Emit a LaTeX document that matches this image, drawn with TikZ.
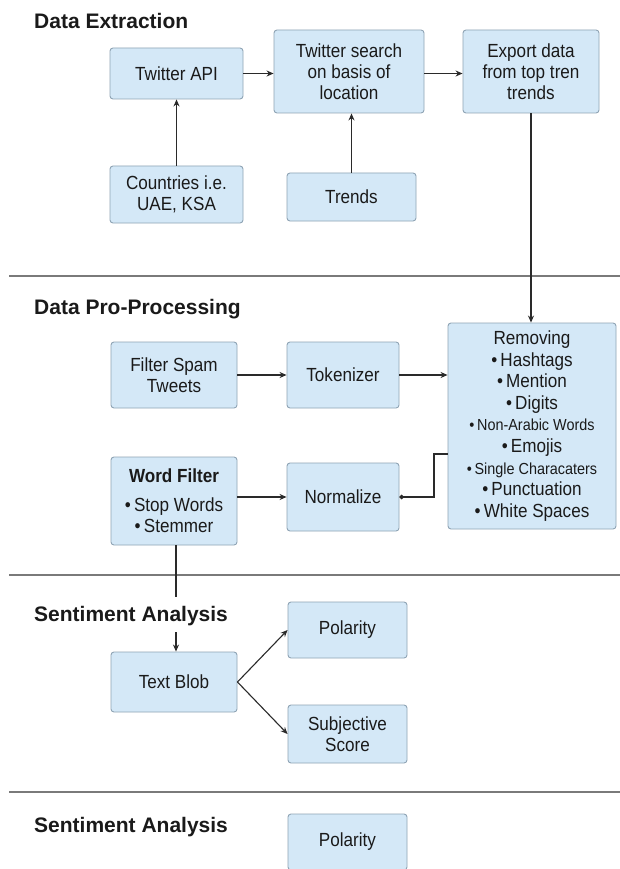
\documentclass[tikz,border=0pt]{standalone}
\usepackage{fontspec}
\setmainfont{Liberation Sans}
\newfontfamily\boxfont{Liberation Sans}[FakeStretch=0.9]
\usetikzlibrary{arrows.meta}
\definecolor{boxfill}{HTML}{D4E8F7}
\definecolor{boxline}{HTML}{8FA4B5}
\definecolor{connc}{HTML}{2A2A2A}
\definecolor{sepc}{HTML}{7A7A7A}
\definecolor{txt}{HTML}{1A1A1A}
\tikzset{
  sz/.style 2 args={minimum width=#1pt,minimum height=#2pt},
  box/.style={draw=boxline, fill=boxfill, line width=0.9pt, rounded corners=3pt,
    align=center, inner sep=0pt, text=txt, font=\boxfont\fontsize{19}{21}\selectfont},
  ttl/.style={anchor=base west, inner sep=0pt, text=txt, font=\fontsize{21}{24}\selectfont\bfseries},
  conn/.style={draw=connc, line width=1.1pt, -{Stealth[length=7pt,width=6pt]}},
  plainln/.style={draw=connc, line width=1.1pt},
  sepline/.style={draw=sepc, line width=1.4pt}
}
\begin{document}
\begin{tikzpicture}[x=1pt,y=-1pt]
\useasboundingbox (0,0) rectangle (620,869);
\clip (0,0) rectangle (620,869);
\fill[white] (0,0) rectangle (620,869);

% titles
\node[ttl] (t1) at (34,28.5) {Data Extraction};
\node[ttl] (t2) at (34,314.5) {Data Pro-Processing};
\node[ttl] (t3) at (34,621.5) {Sentiment Analysis};
\node[ttl] (t4) at (34,832.5) {Sentiment Analysis};

% separators
\draw[sepline] (9,276) -- (620,276);
\draw[sepline] (9,575) -- (620,575);
\draw[sepline] (9,792) -- (620,792);

% section 1
\node[box, sz={133}{51}] (api) at (176.5,73.5) {Twitter API};
\node[box, sz={150}{83}] (search) at (349,71.5) {Twitter search\\on basis of\\location};
\node[box, sz={136}{83}] (export) at (531,71.5) {Export data\\from top tren\\trends};
\node[box, sz={133}{57}] (countries) at (176.5,194.5) {Countries i.e.\\UAE, KSA};
\node[box, sz={129}{48}] (trends) at (351.5,197) {Trends};

% section 2
\node[box, sz={126}{66}] (filter) at (174,375) {Filter Spam\\Tweets};
\node[box, sz={112}{66}] (token) at (343,375) {Tokenizer};
\node[box, sz={168}{206}, font=\boxfont\fontsize{19}{21.6}\selectfont] (rem) at (532,426)
  {Removing\\
   •\,Hashtags\\
   •\,Mention\\
   •\,Digits\\
   {\fontsize{16}{17}\selectfont •\,Non-Arabic Words}\\
   •\,Emojis\\
   {\fontsize{16}{17}\selectfont •\,Single Characaters}\\
   •\,Punctuation\\
   •\,White Spaces};
\node[box, sz={126}{88}] (wordf) at (174,501)
  {{\bfseries Word Filter}\\[8pt]•\,Stop Words\\•\,Stemmer};
\node[box, sz={112}{68}] (norm) at (343,497) {Normalize};

% section 3
\node[box, sz={126}{60}] (blob) at (174,682) {Text Blob};
\node[box, sz={119}{56}] (pol) at (347.5,630) {Polarity};
\node[box, sz={119}{58}] (subj) at (347.5,734) {Subjective\\Score};

% section 4
\node[box, sz={119}{56}] (pol2) at (347.5,842) {Polarity};

% connectors section 1
\draw[conn] (api.east) -- (api.east -| search.west);
\draw[conn] (search.east |- api.east) -- (export.west |- api.east);
\draw[conn] (countries.north) -- (api.south);
\draw[conn] (trends.north) -- (trends.north |- search.south);
\draw[conn] (export.south) -- (export.south |- rem.north);

% connectors section 2
\draw[conn] (filter.east) -- (token.west);
\draw[conn] (token.east) -- (token.east -| rem.west);
\draw[conn] (wordf.east |- norm.east) -- (norm.west);
\coordinate (rj) at (434,454);
\draw[plainln, -{Circle[length=4.5pt]}] (rem.west |- rj) -- (rj) |- (norm.east);

% word filter to text blob
\coordinate (wfend) at (176,597);
\coordinate (tbstart) at (176,632);
\draw[plainln] (wordf.south -| wfend) -- (wfend);
\draw[conn] (tbstart) -- (tbstart |- blob.north);

% section 3 connectors
\draw[conn] (blob.east) -- (pol.west);
\draw[conn] (blob.east) -- (subj.west);
\end{tikzpicture}
\end{document}
